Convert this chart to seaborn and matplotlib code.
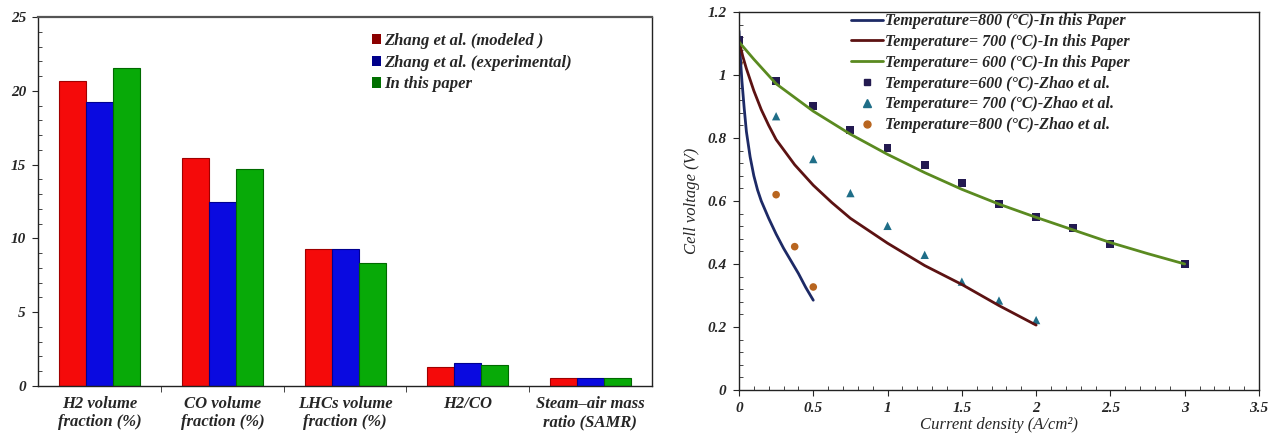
import numpy as np
import pandas as pd
import matplotlib
matplotlib.use("Agg")
import matplotlib.pyplot as plt
from matplotlib.patches import Patch
from matplotlib.lines import Line2D
from matplotlib.ticker import MultipleLocator, FixedLocator
import seaborn as sns

# left panel data
categories = ["H2 volume\nfraction (%)", "CO volume\nfraction (%)", "LHCs volume\nfraction (%)",
              "H2/CO", "Steam\u2013air mass\nratio (SAMR)"]
series_names = ["Zhang et al. (modeled )", "Zhang et al. (experimental)", "In this paper"]
zhang_modeled = [20.64, 15.44, 9.27, 1.31, 0.57]
zhang_experimental = [19.21, 12.50, 9.27, 1.56, 0.57]
this_paper = [21.54, 14.72, 8.34, 1.45, 0.57]

# right panel data - curves
t800_x = [0, 0.005, 0.01, 0.02, 0.035, 0.05, 0.075, 0.1, 0.125, 0.15, 0.2, 0.25, 0.3, 0.35, 0.4, 0.45, 0.5]
t800_y = [1.14, 1.09, 1.05, 0.98, 0.895, 0.82, 0.74, 0.68, 0.635, 0.60, 0.545, 0.495, 0.45, 0.41, 0.37, 0.325, 0.285]
t700_x = [0, 0.025, 0.05, 0.1, 0.15, 0.2, 0.25, 0.375, 0.5, 0.625, 0.75, 1.0, 1.25, 1.5, 1.75, 2.0]
t700_y = [1.11, 1.06, 1.02, 0.95, 0.89, 0.84, 0.795, 0.715, 0.65, 0.595, 0.545, 0.466, 0.395, 0.335, 0.268, 0.206]
t600_x = [0, 0.1, 0.25, 0.5, 0.75, 1.0, 1.25, 1.5, 1.75, 2.0, 2.25, 2.5, 2.75, 3.0]
t600_y = [1.105, 1.05, 0.972, 0.885, 0.812, 0.748, 0.69, 0.637, 0.59, 0.548, 0.508, 0.468, 0.433, 0.40]

# Zhao et al. measured points
zhao600_x = [0, 0.25, 0.5, 0.75, 1.0, 1.25, 1.5, 1.75, 2.0, 2.25, 2.5, 3.0]
zhao600_y = [1.112, 0.982, 0.902, 0.826, 0.767, 0.714, 0.657, 0.591, 0.55, 0.513, 0.463, 0.40]
zhao700_x = [0, 0.25, 0.5, 0.75, 1.0, 1.25, 1.5, 1.75, 2.0]
zhao700_y = [1.05, 0.869, 0.733, 0.625, 0.521, 0.429, 0.344, 0.284, 0.222]
zhao800_x = [0, 0.25, 0.375, 0.5]
zhao800_y = [1.038, 0.62, 0.455, 0.327]

sns.set_style("ticks")
plt.rcParams["font.family"] = ["Liberation Serif", "DejaVu Serif"]
plt.rcParams["font.weight"] = "bold"
plt.rcParams["font.style"] = "italic"

fig = plt.figure(figsize=(12.73, 4.34), dpi=100)
ax1 = fig.add_axes([0.0302, 0.1106, 0.4817, 0.8502])
ax2 = fig.add_axes([0.5805, 0.1014, 0.4085, 0.8710])

# ---- left: grouped bars
bars = pd.DataFrame({
    "category": categories * 3,
    "series": np.repeat(series_names, len(categories)),
    "value": zhang_modeled + zhang_experimental + this_paper,
})
bar_colors = ["#f50a0a", "#0a0ae0", "#08aa08"]
sns.barplot(data=bars, x="category", y="value", hue="series", palette=bar_colors,
            saturation=1, width=0.66, gap=0, edgecolor="none", legend=False, ax=ax1)
edge_cols = ["#a00000", "#000090", "#006a00"]
for cont, ec in zip(ax1.containers, edge_cols):
    for p in cont:
        p.set_edgecolor(ec)
        p.set_linewidth(0.8)

ax1.set_xlim(-0.5, 4.5)
ax1.set_ylim(0, 25)
ax1.set_xlabel("")
ax1.set_ylabel("")
ax1.yaxis.set_major_locator(MultipleLocator(5))
ax1.yaxis.set_minor_locator(MultipleLocator(1))
ax1.tick_params(axis="y", which="major", direction="out", length=4, labelsize=11, pad=5)
ax1.tick_params(axis="y", which="minor", direction="in", length=3)
ax1.xaxis.set_minor_locator(FixedLocator([0.5, 1.5, 2.5, 3.5]))
ax1.tick_params(axis="x", which="major", length=0, labelsize=12, pad=7)
ax1.tick_params(axis="x", which="minor", direction="out", length=4)
for s in ax1.spines.values():
    s.set_visible(True)
    s.set_color("#222222")
    s.set_linewidth(1.0)
ax1.spines["top"].set_color("#555555")
ax1.spines["top"].set_linewidth(1.6)

leg_handles = [Patch(facecolor=c, edgecolor="none") for c in ["#8b0000", "#00008b", "#007000"]]
ax1.legend(leg_handles, series_names, loc="upper left", bbox_to_anchor=(0.53, 0.98),
           frameon=False, fontsize=12, handlelength=0.55, handleheight=0.55,
           handletextpad=0.2, labelspacing=0.35, borderpad=0)

# ---- right: polarization curves
line_cols = ["#1d2a66", "#5c1212", "#5a8a20"]
sns.lineplot(x=t800_x, y=t800_y, color=line_cols[0], lw=2, ax=ax2, sort=False)
sns.lineplot(x=t700_x, y=t700_y, color=line_cols[1], lw=2, ax=ax2, sort=False)
sns.lineplot(x=t600_x, y=t600_y, color=line_cols[2], lw=2, ax=ax2, sort=False)
pt_cols = ["#231a50", "#1f6e88", "#b8651f"]
sns.scatterplot(x=zhao600_x, y=zhao600_y, marker="s", s=32, color=pt_cols[0], edgecolor="none", ax=ax2)
sns.scatterplot(x=zhao700_x, y=zhao700_y, marker="^", s=36, color=pt_cols[1], edgecolor="none", ax=ax2)
sns.scatterplot(x=zhao800_x, y=zhao800_y, marker="o", s=30, color=pt_cols[2], edgecolor="none", ax=ax2)

ax2.set_xlim(0, 3.5)
ax2.set_ylim(0, 1.2)
ax2.xaxis.set_major_locator(MultipleLocator(0.5))
ax2.xaxis.set_minor_locator(MultipleLocator(0.1))
ax2.yaxis.set_major_locator(MultipleLocator(0.2))
ax2.yaxis.set_minor_locator(MultipleLocator(0.04))
ax2.xaxis.set_major_formatter(plt.FuncFormatter(lambda v, p: f"{v:g}"))
ax2.yaxis.set_major_formatter(plt.FuncFormatter(lambda v, p: f"{v:g}"))
ax2.tick_params(which="major", direction="out", length=4, labelsize=11, pad=5)
ax2.tick_params(which="minor", direction="in", length=3)
for s in ax2.spines.values():
    s.set_visible(True)
    s.set_color("#222222")
    s.set_linewidth(1.0)
ax2.set_xlabel("Current density (A/cm\u00b2)", fontsize=12, labelpad=1)
ax2.set_ylabel("Cell voltage (V)", fontsize=12, labelpad=5)

labels2 = ["Temperature=800 (\u00b0C)-In this Paper", "Temperature= 700 (\u00b0C)-In this Paper",
           "Temperature= 600 (\u00b0C)-In this Paper", "Temperature=600 (\u00b0C)-Zhao et al.",
           "Temperature= 700 (\u00b0C)-Zhao et al.", "Temperature=800 (\u00b0C)-Zhao et al."]
h2 = [Line2D([], [], color=c, lw=2) for c in line_cols]
h2 += [Line2D([], [], ls="none", marker=m, color=c, markersize=ms)
       for m, c, ms in zip(["s", "^", "o"], pt_cols, [5, 6, 5])]
ax2.legend(h2, labels2, loc="upper left", bbox_to_anchor=(0.2, 1.018), frameon=False,
           fontsize=11.5, handlelength=2.0, handletextpad=0.1, labelspacing=0.3, borderpad=0)

fig.savefig("out.png", dpi=100)
